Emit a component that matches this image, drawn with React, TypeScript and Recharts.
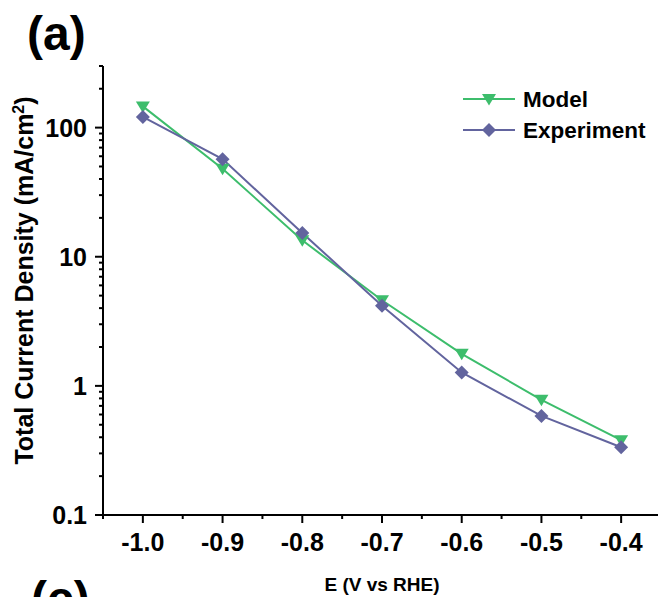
import React from "react";
import { LineChart, Line, XAxis, YAxis, Legend, Label } from "recharts";

// E (V vs RHE)
const potentials = [-1.0, -0.9, -0.8, -0.7, -0.6, -0.5, -0.4];
// total current density, mA/cm2
const modelDensity = [146, 48, 13.4, 4.6, 1.77, 0.78, 0.38];
const experimentDensity = [121, 57, 15.3, 4.17, 1.27, 0.585, 0.335];

const xTicks = [-1.05, -1.0, -0.95, -0.9, -0.85, -0.8, -0.75, -0.7, -0.65, -0.6, -0.55, -0.5, -0.45, -0.4, -0.35];
const xTickLabels = ["-1.0", "-0.9", "-0.8", "-0.7", "-0.6", "-0.5", "-0.4"];
const yTicks = [
  0.1, 0.2, 0.3, 0.4, 0.5, 0.6, 0.7, 0.8, 0.9,
  1, 2, 3, 4, 5, 6, 7, 8, 9,
  10, 20, 30, 40, 50, 60, 70, 80, 90,
  100, 200, 300,
];
const yTickLabels = ["0.1", "1", "10", "100"];

const GREEN = "#3dbd6c";
const PURPLE = "#62649e";
const FONT = "'Liberation Sans', Arial, sans-serif";

const data = potentials.map((e, i) => ({
  e,
  model: modelDensity[i],
  experiment: experimentDensity[i],
}));

const fmtX = (v: number) => v.toFixed(1);
const fmtY = (v: number) => String(v);

const XTick = (props: any) => {
  const { x, y, payload } = props;
  const label = fmtX(payload.value);
  const major = xTickLabels.includes(label) && Math.abs(payload.value * 10 - Math.round(payload.value * 10)) < 1e-6;
  return (
    <g>
      <line x1={x} x2={x} y1={y} y2={y + (major ? 8 : 4)} stroke="#000" strokeWidth={2} />
      {major && (
        <text x={x} y={y + 36} textAnchor="middle" fontSize={25} fontWeight="bold" fontFamily={FONT} fill="#000">
          {label}
        </text>
      )}
    </g>
  );
};

const YTick = (props: any) => {
  const { x, y, payload } = props;
  const label = fmtY(payload.value);
  const major = yTickLabels.includes(label);
  return (
    <g>
      <line x1={x} x2={x - (major ? 8 : 4)} y1={y} y2={y} stroke="#000" strokeWidth={2} />
      {major && (
        <text x={x - 16} y={y + 9} textAnchor="end" fontSize={25} fontWeight="bold" fontFamily={FONT} fill="#000">
          {label}
        </text>
      )}
    </g>
  );
};

const TriangleDot = (props: any) => {
  const { cx, cy } = props;
  if (cx == null || cy == null) return null;
  return <path d={`M${cx - 7},${cy - 5}L${cx + 7},${cy - 5}L${cx},${cy + 6.5}Z`} fill={GREEN} />;
};

const DiamondDot = (props: any) => {
  const { cx, cy } = props;
  if (cx == null || cy == null) return null;
  return <path d={`M${cx},${cy - 7}L${cx + 7},${cy}L${cx},${cy + 7}L${cx - 7},${cy}Z`} fill={PURPLE} />;
};

const renderLegend = () => (
  <svg width={200} height={62}>
    <line x1={5} x2={57} y1={14} y2={14} stroke={GREEN} strokeWidth={2} />
    <TriangleDot cx={31} cy={14} />
    <text x={65} y={22} fontSize={22.5} fontWeight="bold" fontFamily={FONT} fill="#000">Model</text>
    <line x1={5} x2={57} y1={45} y2={45} stroke={PURPLE} strokeWidth={2} />
    <DiamondDot cx={31} cy={45} />
    <text x={65} y={53} fontSize={22.5} fontWeight="bold" fontFamily={FONT} fill="#000">Experiment</text>
  </svg>
);

const YLabel = (props: any) => {
  const vb = props.viewBox;
  const cx = vb.x + 33;
  const cy = vb.y + vb.height / 2 - 10;
  return (
    <text
      x={cx}
      y={cy}
      transform={`rotate(-90 ${cx} ${cy})`}
      textAnchor="middle"
      fontSize={25}
      fontWeight="bold"
      fontFamily={FONT}
      fill="#000"
    >
      <tspan>Total Current Density (mA/cm</tspan>
      <tspan dy={-9} fontSize={16}>2</tspan>
      <tspan dy={9}>)</tspan>
    </text>
  );
};

const XLabel = (props: any) => {
  const vb = props.viewBox;
  return (
    <text
      x={vb.x + vb.width / 2}
      y={vb.y + 76}
      textAnchor="middle"
      fontSize={19}
      fontWeight="bold"
      fontFamily={FONT}
      fill="#000"
    >
      E (V vs RHE)
    </text>
  );
};

export default function App() {
  return (
    <div
      style={{
        position: "absolute",
        left: 0,
        top: 0,
        width: 658,
        height: 597,
        overflow: "hidden",
        background: "#fff",
      }}
    >
      <LineChart width={700} height={597} data={data} margin={{ top: 66, right: 39, bottom: 0, left: 0 }}>
        <XAxis
          dataKey="e"
          type="number"
          domain={[-1.05, -0.35]}
          ticks={xTicks}
          interval={0}
          tickSize={0}
          tickMargin={0}
          tick={<XTick />}
          tickLine={false}
          axisLine={{ stroke: "#000", strokeWidth: 2 }}
          height={82}
          allowDataOverflow
        >
          <Label content={<XLabel />} />
        </XAxis>
        <XAxis
          xAxisId="top"
          orientation="top"
          dataKey="e"
          type="number"
          domain={[-1.05, -0.35]}
          tick={false}
          tickLine={false}
          height={0}
          axisLine={{ stroke: "#000", strokeWidth: 2 }}
          allowDataOverflow
        />
        <YAxis
          type="number"
          scale="log"
          domain={[0.1, 300]}
          ticks={yTicks}
          interval={0}
          tickSize={0}
          tickMargin={0}
          tick={<YTick />}
          tickLine={false}
          axisLine={{ stroke: "#000", strokeWidth: 2 }}
          width={103}
          allowDataOverflow
        >
          <Label content={<YLabel />} />
        </YAxis>
        <Legend
          verticalAlign="middle"
          layout="horizontal"
          content={renderLegend}
          wrapperStyle={{ position: "absolute", left: 458, top: 85, width: 200 }}
        />
        <Line
          dataKey="model"
          name="Model"
          stroke={GREEN}
          strokeWidth={2}
          dot={<TriangleDot />}
          activeDot={false}
          isAnimationActive={false}
        />
        <Line
          dataKey="experiment"
          name="Experiment"
          stroke={PURPLE}
          strokeWidth={2}
          dot={<DiamondDot />}
          activeDot={false}
          isAnimationActive={false}
        />
      </LineChart>
      <svg
        width={658}
        height={597}
        style={{ position: "absolute", left: 0, top: 0, pointerEvents: "none" }}
      >
        <text x={27} y={50} fontSize={48} fontWeight="bold" fontFamily={FONT} fill="#000">(a)</text>
        <text x={31} y={615} fontSize={48} fontWeight="bold" fontFamily={FONT} fill="#000">(c)</text>
      </svg>
    </div>
  );
}
